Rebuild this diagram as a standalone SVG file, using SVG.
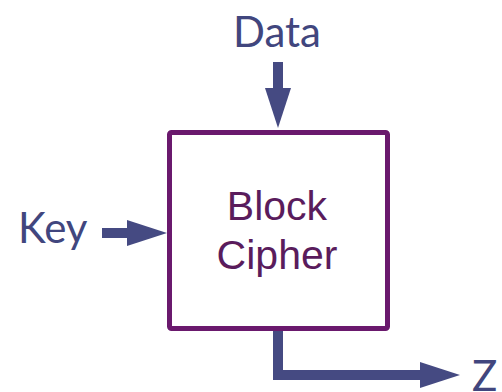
<svg xmlns="http://www.w3.org/2000/svg" width="502" height="392" viewBox="0 0 502 392">
  <style>
    .io { font-family: Lato, "Open Sans", "Liberation Sans", sans-serif; font-size: 42px; fill: #41467e; }
    .box { fill: #ffffff; stroke: #6a196d; stroke-width: 5; }
    .box-label { font-family: "Liberation Sans", Arial, sans-serif; font-size: 41px; fill: #5a1c5c; text-anchor: middle; }
    .wire { fill: none; stroke: #454a82; stroke-width: 10; stroke-linejoin: miter; }
  </style>
  <defs>
    <marker id="head" markerUnits="userSpaceOnUse" viewBox="0 0 40 26" markerWidth="40" markerHeight="26" refX="2" refY="13" orient="auto">
      <polygon points="0,0 40,13 0,26" fill="#454a82"/>
    </marker>
  </defs>

  <g id="connectors">
    <path class="wire" d="M278,62 V90" marker-end="url(#head)"/>
    <path class="wire" d="M102,233 H129" marker-end="url(#head)"/>
    <path class="wire" d="M278,331 V375 H422" marker-end="url(#head)"/>
  </g>

  <g id="cipher">
    <rect class="box" x="169.5" y="132.5" width="218" height="196" rx="2"/>
    <text class="box-label" x="277" y="220">Block</text>
    <text class="box-label" x="277" y="269">Cipher</text>
  </g>

  <g id="data">
    <text class="io" x="277" y="47" text-anchor="middle">Data</text>
  </g>

  <g id="key">
    <text class="io" x="18" y="243">Key</text>
  </g>

  <g id="output">
    <text class="io" x="472" y="391">Z</text>
  </g>
</svg>
